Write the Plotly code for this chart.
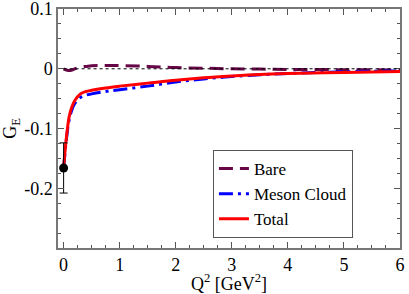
import plotly.graph_objects as go

q2 = [0, 0.05, 0.1, 0.15, 0.2, 0.3, 0.4, 0.5, 0.75, 1, 1.5, 2, 2.5, 3, 3.5, 4, 5, 6]
bare = [0, -0.002, -0.003, -0.002, 0, 0.003, 0.004, 0.005, 0.0055, 0.0055, 0.004, 0.002, 0.001, 0, -0.0005, -0.001, -0.0015, -0.002]
meson = [-0.166, -0.118, -0.085, -0.068, -0.058, -0.048, -0.044, -0.042, -0.038, -0.035, -0.029, -0.022, -0.017, -0.013, -0.010, -0.008, -0.005, -0.0035]
total = [-0.166, -0.115, -0.080, -0.063, -0.053, -0.042, -0.038, -0.036, -0.032, -0.029, -0.024, -0.019, -0.015, -0.012, -0.0095, -0.008, -0.006, -0.0045]
exp_x = [0]
exp_y = [-0.166]
exp_err = [0.042]
x_ticks = [0, 1, 2, 3, 4, 5, 6]
y_ticks = [-0.2, -0.1, 0, 0.1]
y_ticktext = ["-0.2", "-0.1", "0", "0.1"]

font = "Liberation Serif"
fig = go.Figure()
fig.add_hline(y=0, line=dict(color="black", width=1, dash="dot"), x0=0.0164)
fig.add_trace(go.Scatter(x=q2, y=bare, mode="lines", name="Bare",
                         line=dict(color="#670748", width=3, dash="14px,7px"), line_shape="spline"))
fig.add_trace(go.Scatter(x=q2, y=meson, mode="lines", name="Meson Cloud",
                         line=dict(color="#0000ff", width=3, dash="14px,5px,3px,5px"), line_shape="spline"))
fig.add_trace(go.Scatter(x=q2, y=total, mode="lines", name="Total",
                         line=dict(color="#ff0000", width=3), line_shape="spline"))
fig.add_trace(go.Scatter(x=exp_x, y=exp_y, mode="markers", showlegend=False,
                         marker=dict(color="black", size=9),
                         error_y=dict(type="data", array=exp_err, color="black", thickness=1, width=4)))

axis_common = dict(showline=True, linecolor="#777", linewidth=1.5, mirror="allticks",
                   ticks="inside", tickcolor="#555", showgrid=False, zeroline=False,
                   automargin=False, ticklabeloverflow="allow",
                   tickfont=dict(family=font, size=18, color="black"))
fig.update_xaxes(range=[-0.1, 6.0001], tickvals=x_ticks, ticklen=6,
                 minor=dict(dtick=0.25, ticklen=3, ticks="inside", tickcolor="#555", showgrid=False),
                 title=dict(text="Q<sup>2</sup> [GeV<sup>2</sup>]", font=dict(family=font, size=18, color="black"), standoff=6),
                 **axis_common)
fig.update_yaxes(range=[-0.3, 0.1001], tickvals=y_ticks, ticktext=y_ticktext,
                 ticklen=6,
                 minor=dict(dtick=0.025, ticklen=3, ticks="inside", tickcolor="#555", showgrid=False),
                 title=dict(text="G<sub>E</sub>", font=dict(family=font, size=18, color="black"), standoff=6),
                 **axis_common)
fig.update_layout(width=409, height=294, margin=dict(l=58, r=9, t=9, b=46),
                  plot_bgcolor="white", paper_bgcolor="white",
                  font=dict(family=font, size=17, color="black"),
                  legend=dict(x=0.453, y=0.41, xanchor="left", yanchor="top",
                              bgcolor="white", bordercolor="#555", borderwidth=1,
                              font=dict(family=font, size=17), tracegroupgap=0,
                              itemwidth=30))
fig.write_html("out.html", config={"displayModeBar": False},
               post_script="document.body.style.margin='0';document.body.style.overflow='hidden';")
